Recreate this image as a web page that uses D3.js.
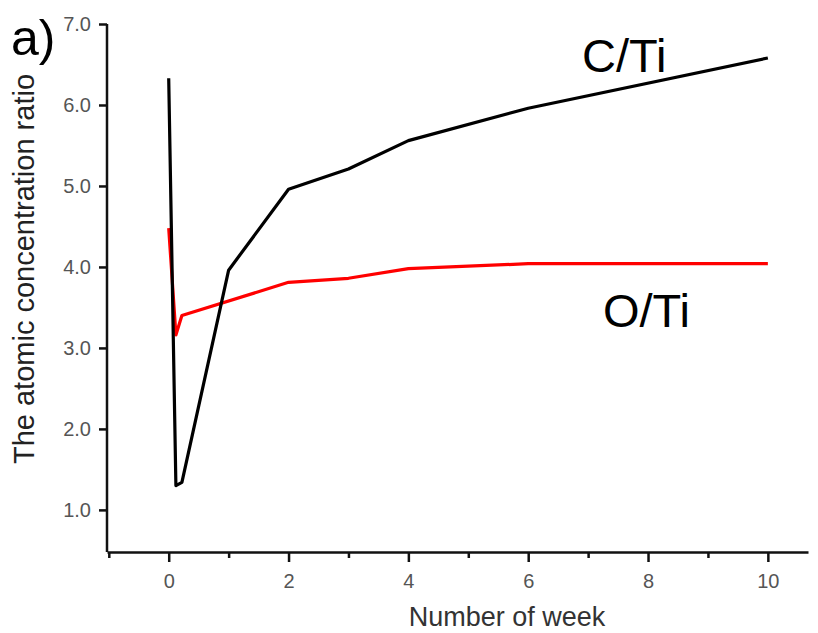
<!DOCTYPE html>
<html>
<head>
<meta charset="utf-8">
<script src="https://cdn.jsdelivr.net/npm/d3@7"></script>
<style>
  html, body { margin: 0; padding: 0; background: #fff; }
  svg { display: block; font-family: "Liberation Sans", Arial, sans-serif; }
</style>
</head>
<body>
<svg id="chart" width="818" height="633"></svg>
<script>
// ---- data ----
const ctiWeeks  = [0, 0.12, 0.22, 1, 2, 3, 4, 6, 10];
const ctiValues = [6.33, 1.30, 1.34, 3.96, 4.96, 5.21, 5.56, 5.96, 6.58];
const otiWeeks  = [0, 0.12, 0.22, 2, 3, 4, 6, 10];
const otiValues = [4.48, 3.16, 3.40, 3.81, 3.86, 3.98, 4.04, 4.04];
const xMajorTicks = [0, 2, 4, 6, 8, 10];
const xMinorTicks = [-1, 1, 3, 5, 7, 9];
const yTicks = [1, 2, 3, 4, 5, 6, 7];
const seriesLabels = ["C/Ti", "O/Ti"];
const panelLabel = "a)";
const xTitle = "Number of week";
const yTitle = "The atomic concentration ratio";

// ---- layout ----
const svg = d3.select("#chart");
const x = d3.scaleLinear().domain([-1.03, 10.67]).range([107, 808]);
const y = d3.scaleLinear().domain([0.48, 7.0]).range([552, 24]);

// lines
const line = d3.line().x(d => x(d[0])).y(d => y(d[1]));
svg.append("path")
  .datum(otiWeeks.map((w, i) => [w, otiValues[i]]))
  .attr("d", line).attr("fill", "none")
  .attr("stroke", "#ff0000").attr("stroke-width", 3.2).attr("stroke-linejoin", "round");
svg.append("path")
  .datum(ctiWeeks.map((w, i) => [w, ctiValues[i]]))
  .attr("d", line).attr("fill", "none")
  .attr("stroke", "#000").attr("stroke-width", 3.2).attr("stroke-linejoin", "round");

// y axis
const yAxis = svg.append("g").attr("transform", `translate(${x.range()[0]},0)`)
  .call(d3.axisLeft(y).tickValues(yTicks).tickFormat(d3.format(".1f"))
        .tickSize(8).tickPadding(8).tickSizeOuter(0));
yAxis.select(".domain").attr("stroke", "#111").attr("stroke-width", 2.5)
  .attr("d", `M0,${y(7)}V${y.range()[0]}`);
yAxis.selectAll(".tick line").attr("stroke", "#111").attr("stroke-width", 2.5);
yAxis.selectAll(".tick text").attr("fill", "#555").style("font-size", "20px");

// x axis (major)
const xAxis = svg.append("g").attr("transform", `translate(0,${y.range()[0]})`)
  .call(d3.axisBottom(x).tickValues(xMajorTicks).tickFormat(d3.format("d"))
        .tickSize(10).tickPadding(12).tickSizeOuter(0));
xAxis.select(".domain").attr("stroke", "#111").attr("stroke-width", 2.5);
xAxis.selectAll(".tick line").attr("stroke", "#111").attr("stroke-width", 2.5);
xAxis.selectAll(".tick text").attr("fill", "#555").style("font-size", "20px");

// x axis (minor)
const xMinor = svg.append("g").attr("transform", `translate(0,${y.range()[0]})`)
  .call(d3.axisBottom(x).tickValues(xMinorTicks).tickFormat("").tickSize(6).tickSizeOuter(0));
xMinor.select(".domain").remove();
xMinor.selectAll(".tick line").attr("stroke", "#111").attr("stroke-width", 2.5);

// titles
svg.append("text").attr("x", 507).attr("y", 626).attr("text-anchor", "middle")
  .attr("fill", "#333").style("font-size", "27px").text(xTitle);
svg.append("text").attr("transform", "translate(34,269) rotate(-90)")
  .attr("text-anchor", "middle").attr("fill", "#222").style("font-size", "29px").text(yTitle);

// annotations
svg.append("text").attr("x", 11).attr("y", 55).attr("fill", "#000")
  .style("font-size", "50px").text(panelLabel);
svg.append("text").attr("x", 582).attr("y", 72).attr("fill", "#000")
  .style("font-size", "47px").text(seriesLabels[0]);
svg.append("text").attr("x", 603).attr("y", 327).attr("fill", "#000")
  .style("font-size", "47px").text(seriesLabels[1]);
</script>
</body>
</html>
